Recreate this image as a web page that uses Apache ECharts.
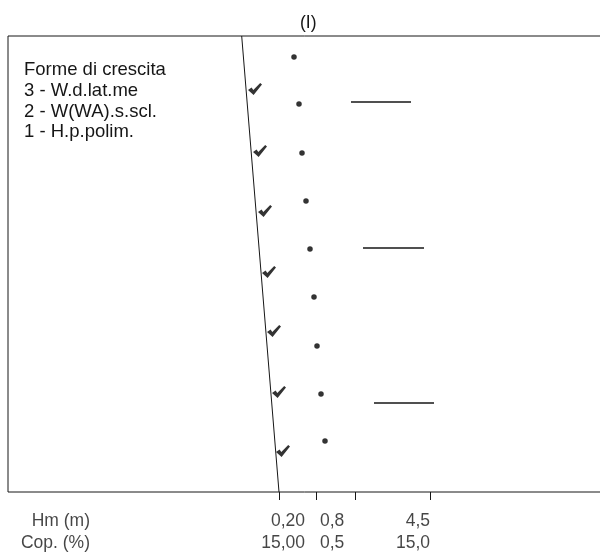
<!DOCTYPE html>
<html>
<head>
<meta charset="utf-8">
<script src="https://cdn.jsdelivr.net/npm/echarts@6/dist/echarts.min.js"></script>
<style>html,body{margin:0;padding:0;background:#fff}#c{width:600px;height:552px}</style>
</head>
<body>
<div id="c"></div>
<script>
// ---- data (values in plot-position units) ----
const chartTitle = '(I)';
const legendHeading = 'Forme di crescita';
const growthForms = ['3 - W.d.lat.me', '2 - W(WA).s.scl.', '1 - H.p.polim.'];

const dotX = [286, 291, 294, 298, 302, 306, 309, 313, 317];
const dotY = [21, 68, 117, 165, 213, 261, 310, 358, 405];

const checkX = [247, 252, 257, 261, 266, 271, 275];
const checkY = [53, 115, 175, 236, 295, 356, 415];

const segStartX = [343, 355, 366];
const segEndX = [403, 416, 426];
const segY = [66, 212, 367];

const refLineX = [233.7, 271];
const refLineY = [0, 456];

const tickValues = [271, 308.5, 347, 422];

const rowNames = ['Hm (m)', 'Cop. (%)'];
const hmLabels = ['0,20', '0,8', '4,5'];
const copLabels = ['15,00', '0,5', '15,0'];

// ---- layout / style ----
const FONT = "'Liberation Sans', Arial, sans-serif";
const FS = 17.5;
const LEGEND_FS = 18.5;
const INK = '#161616';
const labelAnchorX = [297, 312, 422];
const labelAlign = ['right', 'left', 'right'];
const rowAnchorY = [485, 507];
const rowNameX = 82;

const checkPath = 'path://M0,7.2 L3.6,4.6 L5.3,7.2 L12.2,0 L14,1.6 L5.6,12.4 Z';

const labelData = [];
[hmLabels, copLabels].forEach((row, r) => {
  labelData.push({ value: [rowNameX, rowAnchorY[r]], label: { formatter: rowNames[r], align: 'right' } });
  row.forEach((t, i) => {
    labelData.push({ value: [labelAnchorX[i], rowAnchorY[r]], label: { formatter: t, align: labelAlign[i] } });
  });
});

const segSeries = segY.map((y, i) => ({
  type: 'line',
  data: [[segStartX[i], y], [segEndX[i], y]],
  symbol: 'none',
  silent: true,
  lineStyle: { color: INK, width: 1.5 },
  z: 3
}));

const chart = echarts.init(document.getElementById('c'), null, { renderer: 'canvas' });
chart.setOption({
  animation: false,
  backgroundColor: '#fff',
  textStyle: { fontFamily: FONT },
  title: [
    { text: chartTitle, left: 300, top: 14, padding: 0,
      textStyle: { fontFamily: FONT, fontSize: FS, fontWeight: 'normal', color: INK } },
    { text: [legendHeading].concat(growthForms).join('\n'), left: 24, top: 60, padding: 0,
      textStyle: { fontFamily: FONT, fontSize: LEGEND_FS, fontWeight: 'normal', color: INK, lineHeight: 20.6 } }
  ],
  grid: { left: 8, top: 36, right: -10, bottom: 60, show: true, borderColor: INK, borderWidth: 1, outerBoundsMode: 'none', containLabel: false },
  xAxis: {
    type: 'value', min: 0, max: 602, position: 'bottom',
    axisLine: { show: false, onZero: false },
    splitLine: { show: false },
    axisTick: { show: true, inside: false, customValues: tickValues, length: 8, lineStyle: { color: INK, width: 1 } },
    axisLabel: { show: false, customValues: tickValues }
  },
  yAxis: { type: 'value', min: 0, max: 456, inverse: true, show: false },
  series: [
    {
      type: 'line',
      data: refLineX.map((x, i) => [x, refLineY[i]]),
      symbol: 'none', silent: true,
      lineStyle: { color: INK, width: 1 }, z: 2
    },
    {
      type: 'scatter',
      data: dotX.map((x, i) => [x, dotY[i]]),
      symbol: 'circle', symbolSize: 5.5,
      itemStyle: { color: '#000' }, z: 3
    },
    {
      type: 'scatter',
      data: checkX.map((x, i) => [x, checkY[i]]),
      symbol: checkPath, symbolSize: [14, 12],
      itemStyle: { color: '#000' }, z: 3
    },
    ...segSeries,
    {
      type: 'scatter',
      data: labelData,
      symbolSize: 0,
      clip: false,
      silent: true,
      label: { show: true, position: 'inside', verticalAlign: 'middle', fontFamily: FONT, fontSize: FS, color: INK },
      z: 4
    }
  ]
});
</script>
</body>
</html>
